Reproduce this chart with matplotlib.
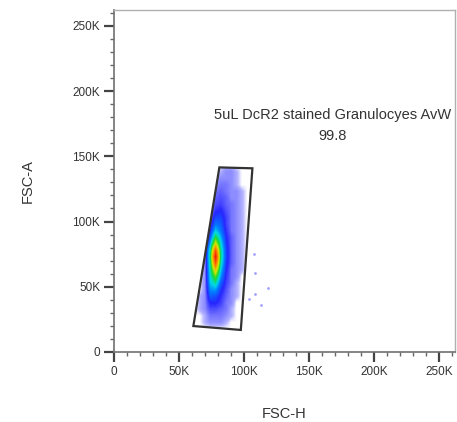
import numpy as np
import matplotlib
matplotlib.use("Agg")
import matplotlib.pyplot as plt
from matplotlib.colors import LinearSegmentedColormap, PowerNorm
from matplotlib.patches import Polygon
from matplotlib.ticker import MultipleLocator, FuncFormatter

plt.rcParams['font.family'] = ['Liberation Sans', 'DejaVu Sans']

# event density, 4K wide x 5K high cells
# columns: FSC-H 60K..108K, rows listed from top (145K) down to 15K
x_edges = np.arange(60000, 108001, 4000)
y_edges = np.arange(15000, 145001, 5000)
density_rows = [
    [0, 0, 0, 0, 0, 0, 1, 1, 0, 0, 0, 0],
    [0, 0, 0, 0, 0, 1, 2, 2, 1, 0, 0, 0],
    [0, 0, 0, 0, 1, 2, 2, 2, 1, 0, 0, 0],
    [0, 0, 0, 0, 2, 3, 3, 2, 1, 0, 0, 0],
    [0, 0, 0, 0, 3, 4, 3, 2, 2, 1, 0, 0],
    [0, 0, 0, 1, 4, 5, 4, 2, 2, 1, 0, 0],
    [0, 0, 0, 1, 5, 6, 4, 3, 2, 1, 0, 0],
    [0, 0, 0, 2, 7, 8, 5, 3, 2, 1, 0, 0],
    [0, 0, 0, 3, 10, 10, 6, 3, 2, 1, 0, 0],
    [0, 0, 0, 5, 14, 12, 6, 3, 2, 1, 0, 0],
    [0, 0, 1, 8, 20, 14, 7, 3, 2, 1, 0, 0],
    [0, 0, 1, 12, 30, 18, 8, 4, 2, 1, 0, 0],
    [0, 0, 1, 18, 45, 22, 9, 4, 2, 1, 0, 0],
    [0, 0, 2, 25, 70, 25, 10, 4, 2, 1, 0, 0],
    [0, 0, 2, 28, 85, 26, 10, 4, 2, 1, 0, 0],
    [0, 0, 2, 26, 70, 24, 9, 4, 2, 1, 0, 0],
    [0, 0, 2, 24, 50, 20, 8, 3, 2, 1, 0, 0],
    [0, 0, 2, 22, 35, 16, 7, 3, 2, 0, 0, 0],
    [0, 0, 2, 20, 25, 12, 6, 3, 1, 0, 0, 0],
    [0, 0, 2, 16, 17, 9, 5, 2, 1, 0, 0, 0],
    [0, 1, 2, 12, 11, 7, 4, 2, 1, 0, 0, 0],
    [0, 1, 2, 8, 8, 6, 3, 2, 0, 0, 0, 0],
    [0, 1, 2, 5, 5, 4, 3, 1, 0, 0, 0, 0],
    [0, 0, 1, 3, 3, 3, 2, 1, 0, 0, 0, 0],
    [0, 0, 1, 2, 2, 2, 1, 0, 0, 0, 0, 0],
    [0, 0, 0, 0, 0, 0, 0, 0, 0, 0, 0, 0],
]

# stray events outside the gate
out_x = [107700, 108700, 118700, 108700, 103600, 112800]
out_y = [75100, 60800, 48700, 44300, 40800, 36400]

# gate vertices
gate_x = [81000, 106400, 97500, 61000]
gate_y = [141500, 140800, 16900, 19900]

gate_name = "5uL DcR2 stained Granulocyes AvW"
gate_pct = "99.8"

axis_max = 262144

cmap = LinearSegmentedColormap.from_list("flow", [
    (0.0, (1, 1, 1)),
    (0.05, (0.93, 0.93, 1.0)),
    (0.10, (0.70, 0.70, 1.0)),
    (0.19, (0.45, 0.45, 1.0)),
    (0.30, (0.15, 0.15, 1.0)),
    (0.42, (0.0, 0.5, 1.0)),
    (0.50, (0.0, 0.85, 0.9)),
    (0.60, (0.1, 0.85, 0.2)),
    (0.72, (0.85, 0.9, 0.0)),
    (0.85, (1.0, 0.5, 0.0)),
    (1.0, (0.95, 0.1, 0.0)),
])

fig = plt.figure(figsize=(4.57, 4.22), dpi=100)
ax = fig.add_axes([114 / 457, 1 - 352 / 422, 341 / 457, 342 / 422])

dens = np.array(density_rows, dtype=float)
im = ax.imshow(dens, extent=[x_edges[0], x_edges[-1], y_edges[0], y_edges[-1]],
               origin='upper', aspect='auto', cmap=cmap,
               norm=PowerNorm(0.5, vmin=0, vmax=85), interpolation='bilinear')

gate = Polygon(np.column_stack([gate_x, gate_y]), closed=True, fill=False,
               edgecolor='#333333', linewidth=1.6)
ax.add_patch(gate)
im.set_clip_path(gate)

ax.scatter(out_x, out_y, s=4, color=(0.4, 0.4, 1.0), alpha=0.6, linewidths=0)

ax.text(167800, 181600, gate_name, ha='center', va='center', fontsize=10.5, color='#333333')
ax.text(167800, 165900, gate_pct, ha='center', va='center', fontsize=10.5, color='#333333')

ax.set_xlim(0, axis_max)
ax.set_ylim(0, axis_max)

fmt = FuncFormatter(lambda v, p: "0" if v == 0 else "%dK" % (v / 1000))
for axis in (ax.xaxis, ax.yaxis):
    axis.set_major_locator(MultipleLocator(50000))
    axis.set_minor_locator(MultipleLocator(10000))
    axis.set_major_formatter(fmt)

ax.tick_params(which='major', direction='out', length=7, width=1.6, color='#444444',
               labelsize=8.5, labelcolor='#333333', pad=3)
ax.tick_params(which='minor', direction='out', length=3, width=1.0, color='#666666')

for s in ('left', 'bottom'):
    ax.spines[s].set_color('#707070')
    ax.spines[s].set_linewidth(1.2)
for s in ('top', 'right'):
    ax.spines[s].set_color('#b0b0b0')
    ax.spines[s].set_linewidth(1.0)

ax.set_xlabel("FSC-H", fontsize=10.5, color='#333333', labelpad=21)
ax.set_ylabel("FSC-A", fontsize=10.5, color='#333333', labelpad=27)

fig.savefig("out.png", dpi=100)
